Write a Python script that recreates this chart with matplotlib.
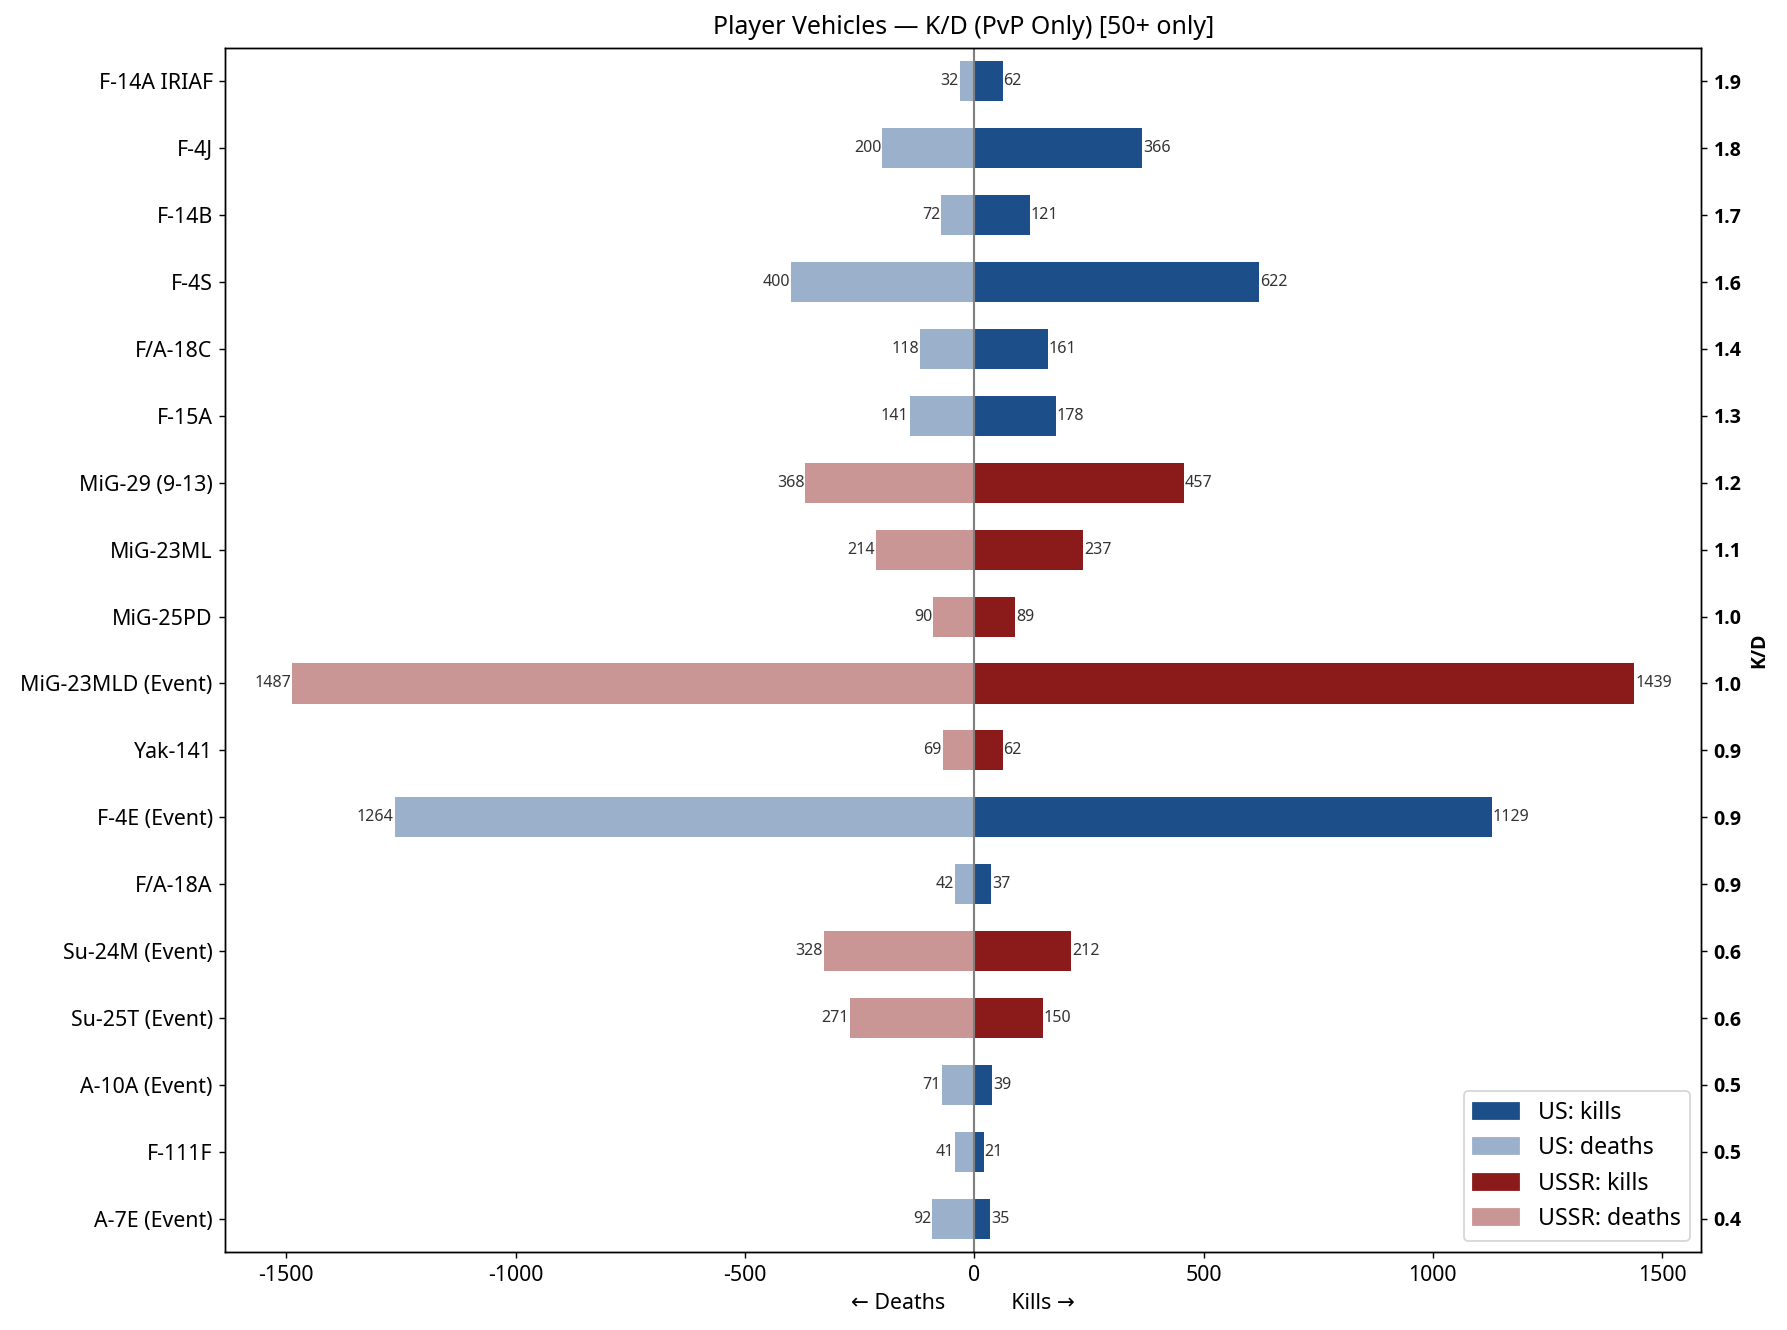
import matplotlib
matplotlib.use("Agg")
import matplotlib.pyplot as plt
from matplotlib.patches import Patch
import numpy as np

plt.rcParams['font.family'] = ['Noto Sans', 'DejaVu Sans']
plt.rcParams['axes.unicode_minus'] = False

vehicles = ["F-14A IRIAF", "F-4J", "F-14B", "F-4S", "F/A-18C", "F-15A", "MiG-29 (9-13)",
            "MiG-23ML", "MiG-25PD", "MiG-23MLD (Event)", "Yak-141", "F-4E (Event)",
            "F/A-18A", "Su-24M (Event)", "Su-25T (Event)", "A-10A (Event)", "F-111F", "A-7E (Event)"]
nation = ["US", "US", "US", "US", "US", "US", "USSR", "USSR", "USSR", "USSR", "USSR", "US",
          "US", "USSR", "USSR", "US", "US", "US"]
kills = [62, 366, 121, 622, 161, 178, 457, 237, 89, 1439, 62, 1129, 37, 212, 150, 39, 21, 35]
deaths = [32, 200, 72, 400, 118, 141, 368, 214, 90, 1487, 69, 1264, 42, 328, 271, 71, 41, 92]

colors = {"US": ("#1c4f8a", "#9ab0cb"), "USSR": ("#8b1a1a", "#c99695")}

fig = plt.figure(figsize=(1787/128, 1330/128), dpi=128)
ax = fig.add_axes([0.126, 0.0585, 0.826, 0.9055])

n = len(vehicles)
y = np.arange(n)[::-1]
kc = [colors[c][0] for c in nation]
dc = [colors[c][1] for c in nation]
ax.barh(y, kills, height=0.6, color=kc)
ax.barh(y, [-d for d in deaths], height=0.6, color=dc)
ax.axvline(0, color="gray", linewidth=1.2)

for yi, k, d in zip(y, kills, deaths):
    ax.text(k + 2, yi, str(k), ha="left", va="center", fontsize=9, color="#333333")
    ax.text(-d - 2, yi, str(d), ha="right", va="center", fontsize=9, color="#333333")

ax.set_yticks(y)
ax.set_yticklabels(vehicles, fontsize=12)
ax.set_ylim(y.min() - 0.5, y.max() + 0.5)
ax.tick_params(axis='x', labelsize=12)
ax.set_xlabel("\u2190 Deaths            Kills \u2192", fontsize=12)
ax.set_title("Player Vehicles \u2014 K/D (PvP Only) [50+ only]", fontsize=14, pad=8)

ax2 = ax.twinx()
ax2.set_ylim(ax.get_ylim())
ax2.set_yticks(y)
ax2.set_yticklabels([f"{k/d:.1f}" for k, d in zip(kills, deaths)], fontsize=11,
                    fontweight="bold", family=["Open Sans", "DejaVu Sans"])
ax2.set_ylabel("K/D", fontsize=11, fontweight="bold", family=["Open Sans", "DejaVu Sans"])

handles = [Patch(color=colors["US"][0], label="US: kills"),
           Patch(color=colors["US"][1], label="US: deaths"),
           Patch(color=colors["USSR"][0], label="USSR: kills"),
           Patch(color=colors["USSR"][1], label="USSR: deaths")]
ax.legend(handles=handles, loc="lower right", fontsize=13)

fig.savefig("out.png", dpi=128)
